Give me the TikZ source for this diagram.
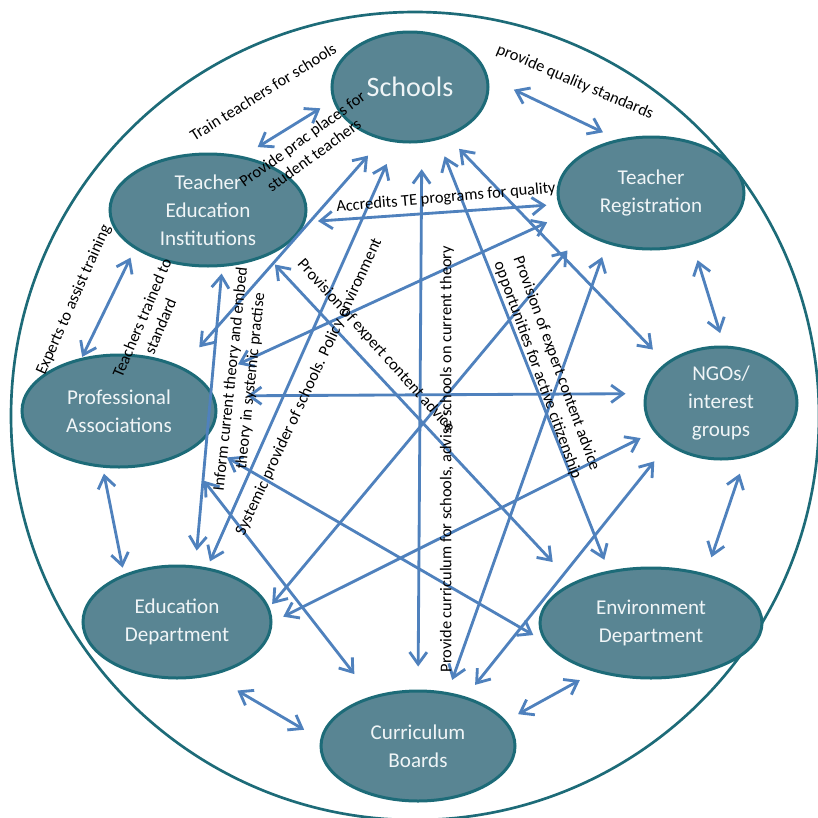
\documentclass[tikz,border=0pt]{standalone}
\usepackage{fontspec}
\setmainfont{Carlito}
\usetikzlibrary{arrows.meta,shapes.geometric}

\definecolor{rim}{RGB}{29,107,120}
\definecolor{bubble}{RGB}{89,133,147}
\definecolor{bubbletext}{RGB}{240,245,247}
\definecolor{link}{RGB}{79,129,189}

\begin{document}
\begin{tikzpicture}[x=0.3mm, y=-0.3mm,
    agent/.style = {draw=rim, line width=0.9mm, fill=bubble, ellipse, inner sep=0pt,
        align=center, text=bubbletext, font=\fontsize{18}{24}\selectfont},
    rel/.style = {draw=link, line width=0.85mm, line join=round,
        >={Straight Barb[length=3.6mm,width=5.2mm]}, <->},
    gaps/.style 2 args = {shorten <=#1mm, shorten >=#2mm},
    note/.style = {align=center, inner sep=0pt, font=\fontsize{14}{17}\selectfont}]
\useasboundingbox (0,0) rectangle (818,818);
\clip (0,0) rectangle (818,818);
\draw[rim, line width=0.8mm] (415,416) circle [radius=404];

    \node[agent, minimum width=46.8mm, minimum height=33mm, font=\fontsize{24}{28}\selectfont] (sch) at (410,87) {Schools};
    \node[agent, minimum width=58.8mm, minimum height=33.6mm] (tei) at (208,210) {Teacher\\Education\\Institutions};
    \node[agent, minimum width=55.8mm, minimum height=33.6mm] (treg) at (651,193) {Teacher\\Registration};
    \node[agent, minimum width=45.6mm, minimum height=33.6mm] (ngo) at (721,403) {NGOs/\\interest\\groups};
    \node[agent, minimum width=58.2mm, minimum height=33.6mm] (pa) at (119,411) {Professional\\Associations};
    \node[agent, minimum width=56.4mm, minimum height=33.6mm] (edu) at (177,622) {Education\\Department};
    \node[agent, minimum width=66.6mm, minimum height=33mm] (env) at (651,623) {Environment\\Department};
    \node[agent, minimum width=58.2mm, minimum height=33mm] (cur) at (418,746) {Curriculum\\Boards};

\draw[rel, gaps={5.2}{4.4}] (tei.57) -- (sch.190);
\draw[rel, gaps={8.5}{4.8}] (sch.7) -- (treg.122);
\draw[rel, gaps={3.8}{3.6}] (tei.353) -- (treg.187);
\draw[rel, gaps={6.3}{7.8}] (sch.242) -- (pa.35);
\draw[rel, gaps={7.0}{2.0}] (sch.256) -- (edu.61);
\draw[rel, gaps={7.9}{6.9}] (sch.282) -- (cur.90);
\draw[rel, gaps={5.3}{3.5}] (sch.298) -- (env.129);
\draw[rel, gaps={5.0}{5.5}] (sch.307) -- (ngo.144);
\draw[rel, gaps={2.9}{0.3}] (tei.208) -- (pa.125);
\draw[rel, gaps={2.0}{4.5}] (tei.284) -- (edu.72);
\draw[rel, gaps={3.4}{8.5}] (tei.322) -- (env.153);
\draw[rel, gaps={4.9}{3.9}] (treg.309) -- (ngo.87);
\draw[rel, gaps={5.4}{11.7}] (treg.194) -- (pa.20);
\draw[rel, gaps={7.0}{1.3}] (treg.210) -- (edu.9);
\draw[rel, gaps={4.2}{3.9}] (treg.229) -- (cur.61);
\draw[rel, gaps={9.9}{5.7}] (pa.9) -- (ngo.173);
\draw[rel, gaps={4.4}{3.6}] (ngo.203) -- (edu.0);
\draw[rel, gaps={6.4}{4.5}] (ngo.218) -- (cur.46);
\draw[rel, gaps={5.1}{5.2}] (ngo.294) -- (env.42);
\draw[rel, gaps={1.8}{2.0}] (pa.254) -- (edu.138);
\draw[rel, gaps={8.9}{4.0}] (pa.339) -- (env.190);
\draw[rel, gaps={10.0}{8.4}] (pa.326) -- (cur.133);
\draw[rel, gaps={8.9}{5.6}] (edu.303) -- (cur.176);
\draw[rel, gaps={4.1}{5.1}] (cur.16) -- (env.221);

    \node[note, rotate=32] (train) at (263,92) {Train teachers for schools};
    \node[note, rotate=-23] (quality) at (575,82) {provide quality standards};
    \node[note, rotate=36] (prac) at (308,147) {Provide prac places for\\student teachers};
    \node[note, rotate=5] (accredit) at (446,198) {Accredits TE programs for quality};
    \node[note, rotate=66] (experts) at (74,300) {Experts to assist training};
    \node[note, rotate=67] (trained) at (151,322) {Teachers trained to\\standard};
    \node[note, rotate=84] (inform) at (241,380) {Inform current theory and embed\\theory in systemic practise};
    \node[note, rotate=65] (systemic) at (309,387) {Systemic provider of schools. Policy environment};
    \node[note, rotate=-48] (expert) at (376,346) {Provision of expert content advice};
    \node[note, rotate=90] (curric) at (447,459) {Provide curriculum for schools, advise schools on current theory};
    \node[note, rotate=-70] (citizen) at (547,367) {Provision of expert content advice\\opportunities for active citizenship};

\end{tikzpicture}
\end{document}
